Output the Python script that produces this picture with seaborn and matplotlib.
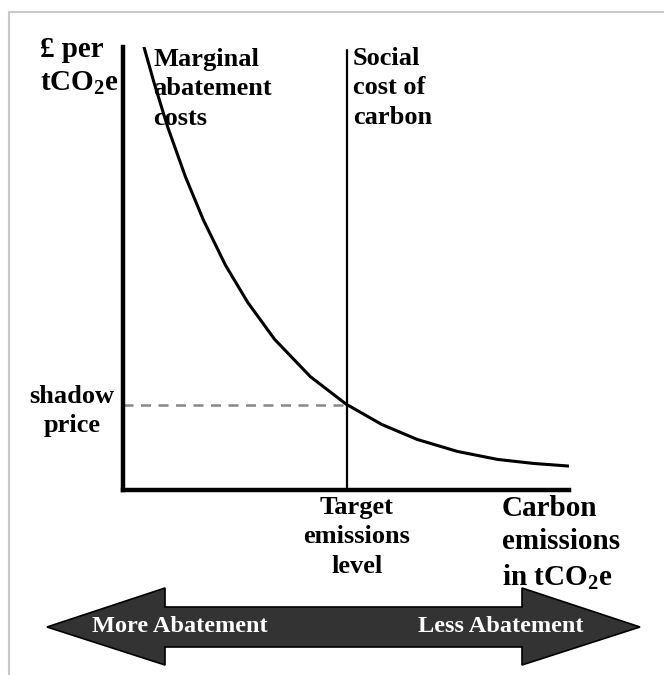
import numpy as np
import seaborn as sns
import matplotlib.pyplot as plt
from matplotlib.patches import Polygon
from matplotlib.lines import Line2D

# marginal abatement cost curve (emissions 0-100, price 0-100)
emissions = [4.7, 7, 10, 14, 18, 23, 28, 34, 42, 50, 58, 66, 75, 84, 92, 100]
mac_cost = [100, 91.8, 82.0, 70.7, 61.0, 50.7, 42.3, 34.0, 25.6, 19.4, 14.8, 11.4, 8.7, 6.9, 6.0, 5.4]
social_cost_x = 50.2      # target emissions level
shadow_price = 19.2       # where the curve meets the social cost line

sns.set_style("white")
plt.rcParams['font.family'] = ['Liberation Serif', 'DejaVu Serif']
plt.rcParams['font.weight'] = 'bold'
plt.rcParams['text.color'] = 'black'
plt.rcParams['mathtext.fontset'] = 'custom'
plt.rcParams['mathtext.rm'] = 'Liberation Serif:bold'
plt.rcParams['mathtext.bf'] = 'Liberation Serif:bold'

W, H = 664, 675
fig = plt.figure(figsize=(W / 100, H / 100), dpi=100)

# axes box in pixels: origin (123, 490), top 47, right 569
ax = fig.add_axes([123 / W, 1 - 490 / H, (569 - 123) / W, (490 - 47) / H])
ax.set_xlim(0, 100)
ax.set_ylim(0, 100)
ax.set_xticks([])
ax.set_yticks([])
for s in ["top", "right"]:
    ax.spines[s].set_visible(False)
for s in ["left", "bottom"]:
    ax.spines[s].set_linewidth(3.2)
    ax.spines[s].set_color("black")
ax.patch.set_alpha(0)

sns.lineplot(x=emissions, y=mac_cost, ax=ax, color="black", linewidth=2.2)
ax.plot([social_cost_x, social_cost_x], [0, 99.3], color="black", linewidth=1.6)
ax.plot([0, social_cost_x], [shadow_price, shadow_price], color="#888888",
        linewidth=1.8, linestyle=(0, (4, 3)))

# labels
fs_big = 21
fs_mid = 19
fig.text(40 / W, 1 - 36 / H, "£ per\ntCO$_\\mathbf{2}$e", fontsize=fs_big,
         ha="left", va="top", linespacing=1.3)
fig.text(153 / W, 1 - 48 / H, "Marginal\nabatement\ncosts", fontsize=fs_mid,
         ha="left", va="top", linespacing=1.35)
fig.text(353 / W, 1 - 47 / H, "Social\ncost of\ncarbon", fontsize=fs_mid,
         ha="left", va="top", linespacing=1.35)
fig.text(72 / W, 1 - 411 / H, "shadow\nprice", fontsize=fs_mid,
         ha="center", va="center", multialignment="center", linespacing=1.3)
fig.text(357 / W, 1 - 496 / H, "Target\nemissions\nlevel", fontsize=fs_mid,
         ha="center", va="top", multialignment="center", linespacing=1.35)
fig.text(502 / W, 1 - 495 / H, "Carbon\nemissions\nin tCO$_\\mathbf{2}$e", fontsize=fs_big,
         ha="left", va="top", linespacing=1.3)

# double headed arrow at the bottom
arrow_px = [(47, 627), (165, 588), (165, 607), (522, 607), (522, 588), (640, 627),
            (522, 665), (522, 647), (165, 647), (165, 665)]
arrow = Polygon([(x / W, 1 - y / H) for x, y in arrow_px], closed=True,
                facecolor="#333333", edgecolor="black", linewidth=1.2,
                transform=fig.transFigure)
fig.patches.append(arrow)
fig.text(92 / W, 1 - 627 / H, "More Abatement", color="white", fontsize=17.5,
         ha="left", va="center")
fig.text(584 / W, 1 - 627 / H, "Less Abatement", color="white", fontsize=17.5,
         ha="right", va="center")

# light frame at top and left
fig.add_artist(Line2D([9 / W, 9 / W], [0, 1 - 12 / H], color="#c8c8c8", linewidth=1.5))
fig.add_artist(Line2D([9 / W, 1], [1 - 12 / H, 1 - 12 / H], color="#c8c8c8", linewidth=1.5))

fig.savefig("out.png", dpi=100)
